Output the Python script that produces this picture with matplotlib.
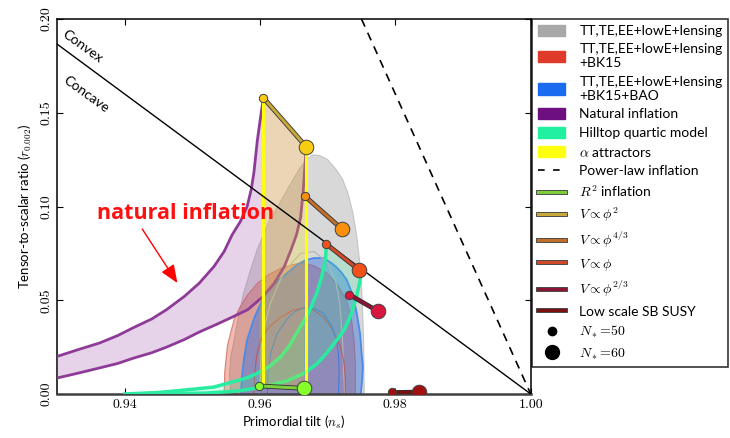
import matplotlib
matplotlib.use('Agg')
import matplotlib.pyplot as plt
import matplotlib.patheffects as pe
from matplotlib.patches import Patch
from matplotlib.lines import Line2D

plt.rcParams['mathtext.fontset'] = 'cm'
plt.rcParams['font.family'] = ['Lato', 'DejaVu Sans']

# --- data (n_s, r) ---
gray95_ns = [0.9557, 0.9555, 0.9557, 0.9562, 0.9568, 0.9576, 0.9586, 0.9596, 0.9612, 0.9631,
             0.9645, 0.9658, 0.9668, 0.9677, 0.9688, 0.9700, 0.9712, 0.9722, 0.9730, 0.9737,
             0.9743, 0.9748, 0.9751, 0.9753, 0.9754]
gray95_r = [0.000, 0.010, 0.020, 0.029, 0.041, 0.054, 0.066, 0.077, 0.091, 0.103,
            0.112, 0.120, 0.1245, 0.1275, 0.1272, 0.125, 0.120, 0.1145, 0.107, 0.097,
            0.084, 0.068, 0.050, 0.030, 0.000]
gray68_ns = [0.9600, 0.9602, 0.9608, 0.9615, 0.9635, 0.9660, 0.9680, 0.9700, 0.9712, 0.9718,
             0.9722, 0.9725]
gray68_r = [0.000, 0.025, 0.038, 0.048, 0.065, 0.075, 0.076, 0.070, 0.060, 0.048, 0.028, 0.000]

red95_ns = [0.9547, 0.9548, 0.9552, 0.9562, 0.9570, 0.9580, 0.9596, 0.9612, 0.9631, 0.9648,
            0.9665, 0.9682, 0.9699, 0.9715, 0.9728, 0.9735, 0.9739, 0.9741, 0.9741]
red95_r = [0.000, 0.012, 0.026, 0.040, 0.046, 0.052, 0.059, 0.0635, 0.067, 0.069,
           0.070, 0.068, 0.0645, 0.058, 0.050, 0.040, 0.029, 0.015, 0.000]
red68_ns = [0.9591, 0.9592, 0.9595, 0.9601, 0.9614, 0.9631, 0.9648, 0.9665, 0.9680, 0.9694,
            0.9708, 0.9719, 0.9724, 0.9726, 0.9726]
red68_r = [0.000, 0.010, 0.020, 0.029, 0.036, 0.041, 0.0445, 0.046, 0.0445, 0.041,
           0.034, 0.025, 0.017, 0.009, 0.000]

blue95_ns = [0.9572, 0.9573, 0.9576, 0.9581, 0.9592, 0.9606, 0.9622, 0.9640, 0.9655, 0.9665,
             0.9679, 0.9694, 0.9705, 0.9712, 0.9720, 0.9728, 0.9737, 0.9743, 0.9748, 0.9750,
             0.9752, 0.9751, 0.9749]
blue95_r = [0.000, 0.008, 0.018, 0.029, 0.041, 0.052, 0.059, 0.0645, 0.069, 0.071,
            0.0725, 0.0725, 0.070, 0.068, 0.065, 0.061, 0.053, 0.043, 0.032, 0.022,
            0.015, 0.008, 0.000]
blue68_ns = [0.9611, 0.9611, 0.9612, 0.9616, 0.9625, 0.9640, 0.9652, 0.9665, 0.9680, 0.9694,
             0.9705, 0.9713, 0.9716, 0.9717, 0.9716]
blue68_r = [0.000, 0.006, 0.012, 0.022, 0.032, 0.040, 0.044, 0.046, 0.0455, 0.043,
            0.037, 0.029, 0.021, 0.012, 0.000]

# natural inflation, N=50 and N=60 curves
nat50_ns = [0.9300, 0.9330, 0.9363, 0.9390, 0.9412, 0.9440, 0.9462, 0.9488, 0.9510, 0.9532,
            0.9547, 0.9559, 0.9571, 0.9581, 0.9587, 0.9591, 0.9596, 0.9601, 0.9605]
nat50_r = [0.0200, 0.0235, 0.0272, 0.0312, 0.0352, 0.0400, 0.0450, 0.0520, 0.0590, 0.0680,
           0.0760, 0.0850, 0.0920, 0.1000, 0.1090, 0.1180, 0.1350, 0.1480, 0.1580]
nat60_ns = [0.9300, 0.9330, 0.9363, 0.9390, 0.9412, 0.9440, 0.9462, 0.9488, 0.9510, 0.9535,
            0.9559, 0.9582, 0.9603, 0.9621, 0.9636, 0.9646, 0.9654, 0.9660, 0.9664, 0.9667,
            0.9668]
nat60_r = [0.0085, 0.0110, 0.0139, 0.0163, 0.0190, 0.0220, 0.0250, 0.0290, 0.0330, 0.0370,
           0.0410, 0.0450, 0.0515, 0.0590, 0.0680, 0.0770, 0.0850, 0.0940, 0.1090, 0.1250,
           0.1320]

# hilltop quartic, N=50 and N=60 curves
hill50_ns = [0.9400, 0.9450, 0.9500, 0.9532, 0.9559, 0.9580, 0.9596, 0.9615, 0.9631, 0.9644,
             0.9654, 0.9665, 0.9675, 0.9684, 0.9690, 0.9694, 0.9697, 0.9698]
hill50_r = [0.0000, 0.0008, 0.0025, 0.0037, 0.0064, 0.0085, 0.0110, 0.0150, 0.0200, 0.0260,
            0.0325, 0.0390, 0.0460, 0.0540, 0.0610, 0.0670, 0.0730, 0.0800]
hill60_ns = [0.9450, 0.9520, 0.9565, 0.9606, 0.9640, 0.9665, 0.9684, 0.9699, 0.9712, 0.9724,
             0.9732, 0.9738, 0.9743, 0.9747, 0.9749, 0.9747]
hill60_r = [0.0000, 0.0005, 0.0015, 0.0037, 0.0070, 0.0110, 0.0160, 0.0220, 0.0280, 0.0340,
            0.0400, 0.0460, 0.0525, 0.0590, 0.0630, 0.0660]

# model predictions: [N=50, N=60]
models = ['R2', 'phi2', 'phi43', 'phi1', 'phi23', 'susy']
model_ns = {'R2': [0.9599, 0.9665], 'phi2': [0.9605, 0.9668], 'phi43': [0.9666, 0.9721],
            'phi1': [0.9698, 0.9747], 'phi23': [0.9732, 0.9775], 'susy': [0.9795, 0.9835]}
model_r = {'R2': [0.0043, 0.0030], 'phi2': [0.158, 0.132], 'phi43': [0.1056, 0.088],
           'phi1': [0.080, 0.066], 'phi23': [0.053, 0.044], 'susy': [0.0008, 0.0010]}
model_labels = {'R2': '$R^2$ inflation', 'phi2': r'$V\propto\phi^2$',
                'phi43': r'$V\propto\phi^{4/3}$', 'phi1': r'$V\propto\phi$',
                'phi23': r'$V\propto\phi^{2/3}$', 'susy': 'Low scale SB SUSY'}
line_col = {'R2': '#7ccf3a', 'phi2': '#c9a83a', 'phi43': '#c0702a', 'phi1': '#d04a2a',
            'phi23': '#8c1535', 'susy': '#7a1010'}
dot_col = {'R2': '#86ff2a', 'phi2': '#f8cc10', 'phi43': '#f8900e', 'phi1': '#f0501a',
           'phi23': '#d8173f', 'susy': '#a01010'}

convex_ns = [0.93, 1.00]
convex_r = [0.1867, 0.0]
powerlaw_ns = [0.975, 1.00]
powerlaw_r = [0.20, 0.0]

fig = plt.figure(figsize=(7.3, 4.38), dpi=100)
ax = fig.add_axes([0.078, 0.1005, 0.649, 0.856])

# data contours
ax.fill(gray95_ns, gray95_r, color='#b8b8b8', alpha=0.55, lw=0, zorder=1)
ax.plot(gray95_ns, gray95_r, color='#c4c4c4', lw=0.8, zorder=1)
ax.fill(red95_ns, red95_r, color='#d84a38', alpha=0.38, lw=0, zorder=2)
ax.plot(red95_ns, red95_r, color='#d88070', lw=0.8, zorder=2)
ax.fill(blue95_ns, blue95_r, color='#2a6ae0', alpha=0.42, lw=0, zorder=2)
ax.plot(blue95_ns, blue95_r, color='#4a8ae8', lw=1.3, zorder=2)
ax.plot(gray68_ns, gray68_r, color='#b4b4bc', lw=0.8, zorder=2)
ax.plot(red68_ns, red68_r, color='#c05050', lw=0.8, alpha=0.8, zorder=2)
ax.plot(blue68_ns, blue68_r, color='#3c7ae0', lw=0.8, alpha=0.9, zorder=2)

# natural inflation band
ax.fill(nat50_ns + nat60_ns[::-1], nat50_r + nat60_r[::-1], color='#a050a8', alpha=0.25,
        lw=0, zorder=3)
ax.plot(nat50_ns, nat50_r, color='#8e3b98', lw=2, zorder=3)
ax.plot(nat60_ns, nat60_r, color='#8e3b98', lw=2, zorder=3)

# hilltop quartic band
ax.fill(hill50_ns + hill60_ns[::-1], hill50_r + hill60_r[::-1], color='#30f0a8', alpha=0.2,
        lw=0, zorder=3)
ax.plot(hill50_ns, hill50_r, color='#28eca0', lw=2.5, zorder=3)
ax.plot(hill60_ns, hill60_r, color='#28eca0', lw=2.5, zorder=3)

# alpha attractors
ax.fill([model_ns['R2'][0], model_ns['phi2'][0], model_ns['phi2'][1], model_ns['R2'][1]],
        [model_r['R2'][0], model_r['phi2'][0], model_r['phi2'][1], model_r['R2'][1]],
        color='#ffe000', alpha=0.22, lw=0, zorder=3)
ax.vlines([model_ns['phi2'][0], model_ns['phi2'][1]], [model_r['R2'][0], model_r['R2'][1]],
          [model_r['phi2'][0], model_r['phi2'][1]], color='#ffff10', lw=2.2, zorder=4)

# convex/concave divider and power-law
ax.plot(convex_ns, convex_r, color='black', lw=1.0, zorder=5)
ax.plot(powerlaw_ns, powerlaw_r, color='black', lw=1.2, ls=(0, (5, 4)), zorder=5)

# model segments
for m in models:
    ax.plot(model_ns[m], model_r[m], color=line_col[m], lw=2.2, zorder=6,
            path_effects=[pe.Stroke(linewidth=3.4, foreground='#303030'), pe.Normal()])
    ax.plot(model_ns[m][0], model_r[m][0], 'o', ms=6, mfc=dot_col[m], mec='#404040',
            mew=0.7, zorder=7)
    ax.plot(model_ns[m][1], model_r[m][1], 'o', ms=10.5, mfc=dot_col[m], mec='#404040',
            mew=0.7, zorder=7)

ax.text(0.9338, 0.1856, 'Convex', rotation=-36, fontsize=10, ha='center', va='center')
ax.text(0.9343, 0.1600, 'Concave', rotation=-36, fontsize=10, ha='center', va='center')

ax.annotate('', xy=(0.9478, 0.0592), xytext=(0.9426, 0.088),
            arrowprops=dict(arrowstyle='-|>,head_length=1.1,head_width=0.45', color='red',
                            lw=1.0, shrinkA=0, shrinkB=0), zorder=8)
ax.text(0.9490, 0.0965, 'natural inflation', color='#ff1010', fontsize=15.5, fontweight='bold',
        family='Open Sans', ha='center', va='center', zorder=8)

ax.set_xlim(0.93, 1.00)
ax.set_ylim(0.0, 0.20)
ax.set_xticks([0.94, 0.96, 0.98, 1.00])
ax.set_yticks([0.00, 0.05, 0.10, 0.15, 0.20])
ax.set_xticklabels(['0.94', '0.96', '0.98', '1.00'], family=['cmr10', 'DejaVu Serif'],
                   fontsize=10)
ax.set_yticklabels(['0.00', '0.05', '0.10', '0.15', '0.20'], family=['cmr10', 'DejaVu Serif'],
                   fontsize=10, rotation=90, va='center')
ax.tick_params(direction='in', top=True, right=True, length=4, width=0.8)
ax.set_xlabel('Primordial tilt ($n_s$)', fontsize=9.5, labelpad=2)
ax.set_ylabel('Tensor-to-scalar ratio ($r_{0.002}$)', fontsize=9.5, labelpad=4)
for s in ax.spines.values():
    s.set_linewidth(1.1)
ax.spines['bottom'].set_color('#404040')
ax.spines['bottom'].set_linewidth(1.8)

handles = [Patch(color='#a8a8a8'), Patch(color='#e03a2a'), Patch(color='#1a6bef'),
           Patch(color='#6e0f80'), Patch(color='#20f0a0'), Patch(color='#ffff10'),
           Line2D([], [], color='black', lw=1.2, ls=(0, (4, 5)))]
labels = ['TT,TE,EE+lowE+lensing', 'TT,TE,EE+lowE+lensing\n+BK15',
          'TT,TE,EE+lowE+lensing\n+BK15+BAO', 'Natural inflation', 'Hilltop quartic model',
          r'$\alpha$ attractors', 'Power-law inflation']
for m in models:
    handles.append(Line2D([], [], color=line_col[m], lw=2.2,
                          path_effects=[pe.Stroke(linewidth=3.4, foreground='#303030'),
                                        pe.Normal()]))
    labels.append(model_labels[m])
handles.append(Line2D([], [], ls='', marker='o', ms=6, color='black'))
handles.append(Line2D([], [], ls='', marker='o', ms=10, color='black'))
labels += ['$N_*\\!=\\!50$', '$N_*\\!=\\!60$']

leg = ax.legend(handles, labels, loc='upper left', bbox_to_anchor=(1.003, 1.0),
                borderaxespad=0, fontsize=10, frameon=True, fancybox=False,
                edgecolor='black', handlelength=2.0, handleheight=0.9, labelspacing=0.45,
                borderpad=0.4, handletextpad=1.0)
leg.get_frame().set_linewidth(1.2)

fig.savefig('out.png', dpi=100)
